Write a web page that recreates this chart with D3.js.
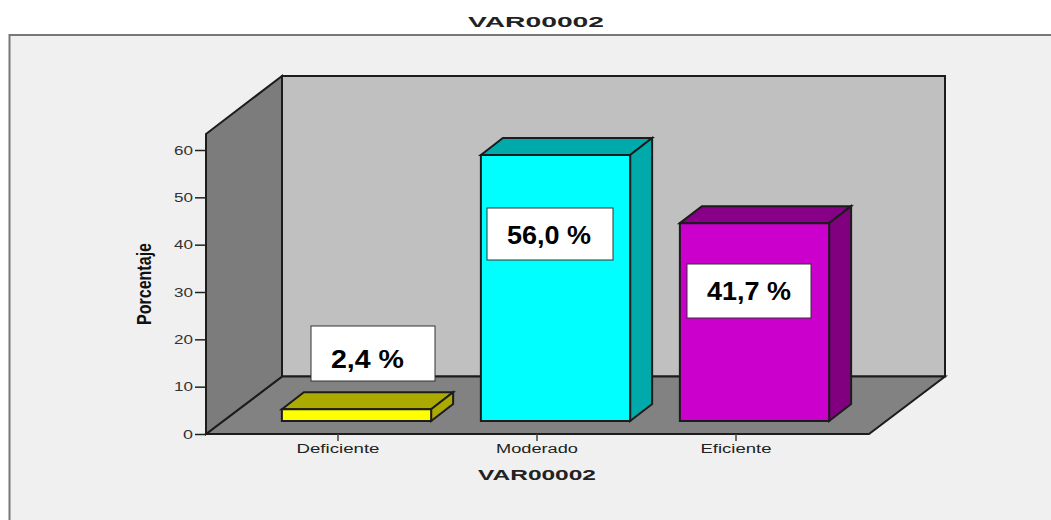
<!DOCTYPE html>
<html><head><meta charset="utf-8">
<script src="https://cdn.jsdelivr.net/npm/d3@7/dist/d3.min.js"></script>
<style>html,body{margin:0;padding:0;background:#fff}svg{display:block}text{font-family:"Liberation Sans",Arial,sans-serif}</style>
</head><body><svg id="c" width="1051" height="520"></svg>
<script>
const categories = ["Deficiente","Moderado","Eficiente"];
const values = [2.4,56.0,41.7];
const drawnValues = [2.5,56.2,41.8];
const valueLabels = ["2,4 %","56,0 %","41,7 %"];
const yTicks = [0,10,20,30,40,50,60];
const chartTitle = "VAR00002", xTitle = "VAR00002", yTitle = "Porcentaje";

const faceColors = ["#ffff00","#00ffff","#cc00cc"];
const topColors = ["#aaaa00","#00aaaa","#880088"];
const sideColors = ["#aaaa00","#00aaaa","#800080"];
const labelBoxes = [[311,326,124,55],[487,208,126,52],[687,264,124,54]];
const labelTextW = [73,84,84];
const labelTextX = [367.5,549,749];
const labelBaseY = [368,244,300];
const tickTextW = [83,82,71];

const svg = d3.select("#c");
const ink = "#1c1c1c";
const x0=206, x1=869, yBase=434, yTop=134, dx=76, dy=-57.5;
const y = d3.scaleLinear().domain([0,60]).range([434,150]);
const x = d3.scaleBand().domain(categories).range([238.5,835.5]).paddingInner(0.25).paddingOuter(0.125);
const barDx=22, barDy=-17, barShiftX=18.5, barShiftY=-13;

// background
svg.append("rect").attr("x",9).attr("y",35).attr("width",1042).attr("height",485).attr("fill","#f0f0f0");
svg.append("path").attr("d","M9.5,520V35H1051").attr("fill","none").attr("stroke","#777").attr("stroke-width",2);

const poly = (pts,fill,sw=2)=>svg.append("path").attr("d",d3.line()(pts)+"Z").attr("fill",fill).attr("stroke",ink).attr("stroke-width",sw).attr("stroke-linejoin","miter");
// walls and floor
poly([[x0+dx,yTop+dy-0.5],[x1+dx+0,yTop+dy-0.5],[x1+dx,yBase+dy],[x0+dx,yBase+dy]],"#c0c0c0");
poly([[x0,yBase],[x1,yBase],[x1+dx,yBase+dy],[x0+dx,yBase+dy]],"#828282");
poly([[x0,yTop],[x0+dx,yTop+dy-0.5],[x0+dx,yBase+dy],[x0,yBase]],"#7c7c7c");

// bars
categories.forEach((c,i)=>{
  const l=x(c)+barShiftX, r=l+x.bandwidth(), t=y(drawnValues[i])+barShiftY, b=y(0)+barShiftY;
  poly([[l,t],[l+barDx,t+barDy],[r+barDx,t+barDy],[r,t]],topColors[i]);
  poly([[r,t],[r+barDx,t+barDy],[r+barDx,b+barDy],[r,b]],sideColors[i]);
  poly([[l,t],[r,t],[r,b],[l,b]],faceColors[i]);
});

// stretch helper: the source type is horizontally wide
function fit(sel,w){ sel.attr("textLength",w).attr("lengthAdjust","spacingAndGlyphs"); }

// axes
const yAxis = d3.axisLeft(y).tickValues(yTicks).tickSize(11).tickPadding(2).tickFormat(d3.format("d"));
const gy = svg.append("g").attr("transform",`translate(${x0},0)`).call(yAxis);
gy.select(".domain").remove();
gy.selectAll("line").attr("stroke","#222").attr("stroke-width",1.5);
gy.selectAll("text").attr("font-size",12).attr("fill","#333").attr("dy","0.36em").each(function(d){fit(d3.select(this),d===0?10:19);});
const xAxis = d3.axisBottom(x).tickSize(7).tickPadding(2);
const gx = svg.append("g").attr("transform",`translate(0,${yBase})`).call(xAxis);
gx.select(".domain").remove();
gx.selectAll("line").attr("stroke","#444").attr("stroke-width",1.5);
gx.selectAll("text").attr("font-size",12).attr("fill","#222").attr("y",10).attr("dy","0.71em").each(function(d,i){fit(d3.select(this),tickTextW[i]);});

// titles
svg.append("text").attr("x",536).attr("y",27).attr("text-anchor","middle").attr("font-size",15).attr("font-weight",700).attr("fill","#222").text(chartTitle).call(fit,136);
svg.append("text").attr("x",537).attr("y",480).attr("text-anchor","middle").attr("font-size",15).attr("font-weight",700).attr("fill","#222").text(xTitle).call(fit,118);
svg.append("text").attr("transform","translate(151,284) rotate(-90)").attr("text-anchor","middle").attr("font-size",20).attr("font-weight",700).attr("fill","#111").text(yTitle).call(fit,82);

// value labels
valueLabels.forEach((s,i)=>{
  const [bx,by,bw,bh]=labelBoxes[i];
  svg.append("rect").attr("x",bx).attr("y",by).attr("width",bw).attr("height",bh).attr("fill","#fff").attr("stroke","#333").attr("stroke-width",1);
  svg.append("text").attr("x",labelTextX[i]).attr("y",labelBaseY[i]).attr("text-anchor","middle").attr("font-size",26).attr("font-weight",700).attr("fill","#000").text(s).call(fit,labelTextW[i]);
});
</script></body></html>
